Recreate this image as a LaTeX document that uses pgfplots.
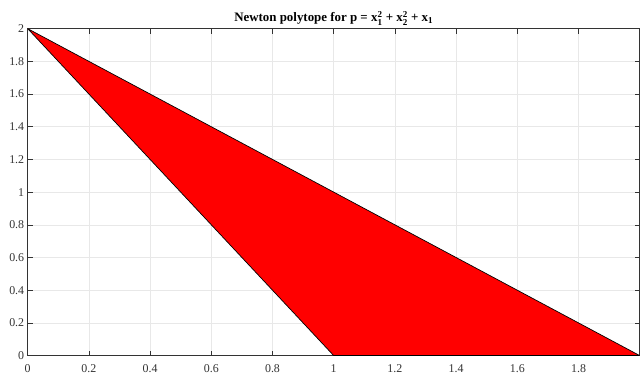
\documentclass[border={6bp 2bp 0bp 8bp}]{standalone}
\usepackage{pgfplots}
\pgfplotsset{compat=1.18}
\usepackage{amsmath}
\usepackage{fontspec}
\setmainfont{Liberation Serif}
\begin{document}
\begin{tikzpicture}
\begin{axis}[
  scale only axis,
  width=614bp, height=328bp,
  xmin=0, xmax=2, ymin=0, ymax=2,
  xtick={0,0.2,0.4,0.6,0.8,1,1.2,1.4,1.6,1.8},
  xticklabels={0,0.2,0.4,0.6,0.8,1,1.2,1.4,1.6,1.8},
  ytick={0,0.2,0.4,0.6,0.8,1,1.2,1.4,1.6,1.8,2},
  yticklabels={0,0.2,0.4,0.6,0.8,1,1.2,1.4,1.6,1.8,2},
  tick align=inside,
  major tick length=5bp,
  grid=major,
  grid style={gray!18, line width=0.5pt},
  axis line style={black!80, line width=0.6pt},
  tick style={black!80, line width=0.6pt},
  ticklabel style={font=\fontsize{12}{13}\selectfont, text=black!80},
  yticklabel style={xshift=0bp},
  xticklabel style={yshift=-6bp},
  title={\textbf{Newton polytope for p = x$^{\text{\textbf{2}}}_{\text{\textbf{1}}}$ + x$^{\text{\textbf{2}}}_{\text{\textbf{2}}}$ + x$_{\text{\textbf{1}}}$}},
  title style={font=\fontsize{13}{14}\selectfont, yshift=-6bp},
  clip=true,
]
\addplot[fill=red, draw=black, line width=0.7pt] coordinates {(0,2) (1,0) (2,0) (0,2)} -- cycle;
\end{axis}
\end{tikzpicture}
\end{document}
